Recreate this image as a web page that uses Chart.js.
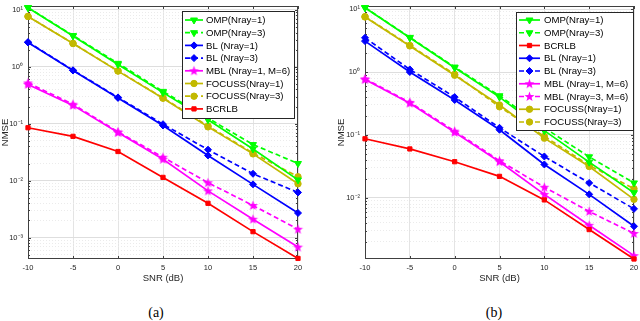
<!DOCTYPE html>
<html>
<head>
<meta charset="utf-8">
<script src="https://cdn.jsdelivr.net/npm/chart.js@4.4.1/dist/chart.umd.min.js"></script>
<style>
  body { margin: 0; background: #fff; width: 640px; height: 321px; overflow: hidden; position: relative; }
  .panel { position: absolute; top: 0; height: 300px; }
  #pa { left: 0; width: 310px; }
  #pb { left: 336px; width: 304px; }
  .cap { position: absolute; top: 305px; width: 40px; text-align: center; font: 14px "Liberation Serif", "Times New Roman", serif; line-height: 16px; color: #000; }
</style>
</head>
<body>
<div class="panel" id="pa"><canvas id="chartA"></canvas></div>
<div class="panel" id="pb"><canvas id="chartB"></canvas></div>
<div class="cap" style="left:136px">(a)</div>
<div class="cap" style="left:474px">(b)</div>
<script>
// SNR axis (dB)
const snr = [-10, -5, 0, 5, 10, 15, 20];
const xTicks = [-10, -5, 0, 5, 10, 15, 20];
const yDecades = [1e-3, 1e-2, 1e-1, 1, 10];
const yDecadeLabels = ['10⁻³', '10⁻²', '10⁻¹', '10⁰', '10¹'];

// panel (a)
const aOmp1 = [10.9, 3.47, 1.10, 0.352, 0.117, 0.036, 0.0103];
const aOmp3 = [11.0, 3.55, 1.15, 0.37, 0.125, 0.043, 0.020];
const aBl1 = [2.67, 0.86, 0.284, 0.093, 0.0277, 0.0086, 0.0027];
const aBl3 = [2.72, 0.87, 0.29, 0.098, 0.035, 0.0132, 0.0062];
const aMbl1 = [0.49, 0.21, 0.070, 0.0237, 0.0066, 0.0021, 0.00068];
const aMbl3 = [0.52, 0.22, 0.072, 0.0258, 0.0092, 0.00366, 0.0014];
const aFoc1 = [7.66, 2.56, 0.84, 0.28, 0.088, 0.0295, 0.0088];
const aFoc3 = [7.7, 2.58, 0.85, 0.285, 0.091, 0.0305, 0.0117];
const aBcrlb = [0.085, 0.060, 0.0325, 0.0114, 0.0040, 0.00127, 0.00043];

// panel (b)
const bOmp1 = [10.5, 3.5, 1.17, 0.40, 0.117, 0.037, 0.0121];
const bOmp3 = [10.6, 3.55, 1.2, 0.42, 0.13, 0.045, 0.0173];
const bBcrlb = [0.087, 0.060, 0.0376, 0.022, 0.0093, 0.00314, 0.00107];
const bBl1 = [3.1, 1.0, 0.36, 0.121, 0.034, 0.0114, 0.00354];
const bBl3 = [3.5, 1.1, 0.40, 0.13, 0.0455, 0.0173, 0.0067];
const bMbl1 = [0.76, 0.32, 0.11, 0.0376, 0.0114, 0.00367, 0.00121];
const bMbl3 = [0.78, 0.33, 0.115, 0.039, 0.0148, 0.0061, 0.00272];
const bFoc1 = [7.5, 2.6, 0.89, 0.30, 0.089, 0.0315, 0.0095];
const bFoc3 = [7.6, 2.65, 0.92, 0.28, 0.095, 0.033, 0.014];

const GREEN = '#00ff00', BLUE = '#0000ff', MAGENTA = '#ff00ff', OLIVE = '#c2b900', RED = '#ff0000';
const FONT = '"Liberation Sans", Arial, sans-serif';
Chart.defaults.font.family = FONT;

// filled pentagram marker
function pentagram(color) {
  const c = document.createElement('canvas');
  c.width = 11; c.height = 11;
  const g = c.getContext('2d');
  g.fillStyle = color;
  g.beginPath();
  for (let i = 0; i < 10; i++) {
    const r = i % 2 === 0 ? 5.2 : 2.1;
    const a = -Math.PI / 2 + i * Math.PI / 5;
    g.lineTo(5.5 + r * Math.cos(a), 5.8 + r * Math.sin(a));
  }
  g.closePath();
  g.fill();
  return c;
}
const starM = pentagram(MAGENTA);

function series(label, data, color, dashed, style, radius, extra) {
  return Object.assign({
    label: label,
    data: data.map((v, i) => ({ x: snr[i], y: v })),
    borderColor: color,
    backgroundColor: color,
    pointBackgroundColor: color,
    pointBorderColor: color,
    borderWidth: 1.7,
    borderDash: dashed ? [5, 3] : [],
    pointStyle: style,
    pointRadius: radius,
    pointBorderWidth: 1,
    pointRotation: 0,
    tension: 0,
    clip: false
  }, extra || {});
}
const down = { pointRotation: 180 };

function isDecade(v) {
  const l = Math.log10(v);
  return Math.abs(l - Math.round(l)) < 1e-9;
}

const boxPlugin = {
  id: 'axesBox',
  beforeDatasetsDraw(chart) {
    const { ctx, chartArea: a } = chart;
    const x = chart.scales.x, y = chart.scales.y;
    ctx.save();
    ctx.strokeStyle = '#404040';
    ctx.lineWidth = 1;
    ctx.beginPath();
    x.ticks.forEach(t => {
      const px = Math.round(x.getPixelForValue(t.value)) + 0.5;
      ctx.moveTo(px, a.bottom); ctx.lineTo(px, a.bottom - 3);
      ctx.moveTo(px, a.top); ctx.lineTo(px, a.top + 3);
    });
    y.ticks.forEach(t => {
      const py = Math.round(y.getPixelForValue(t.value)) + 0.5;
      const len = isDecade(t.value) ? 3 : 2;
      ctx.moveTo(a.left, py); ctx.lineTo(a.left + len, py);
      ctx.moveTo(a.right, py); ctx.lineTo(a.right - len, py);
    });
    ctx.stroke();
    ctx.strokeRect(Math.round(a.left) + 0.5, Math.round(a.top) + 0.5,
      Math.round(a.right - a.left) - 1, Math.round(a.bottom - a.top) - 1);
    ctx.restore();
  }
};

const legendPlugin = {
  id: 'boxLegend',
  afterDraw(chart, args, o) {
    const { ctx, chartArea: a } = chart;
    const items = chart.data.datasets.filter(d => !d.hideInLegend);
    ctx.save();
    ctx.font = o.fontSize + 'px ' + FONT;
    const tw = Math.max(...items.map(d => ctx.measureText(d.label).width));
    const w = Math.round(o.textX + tw + o.padRight);
    const h = Math.round(o.padTop * 2 + o.rowH * (items.length - 1));
    const x0 = Math.round(a.right - o.right - w);
    const y0 = Math.round(a.top + o.top);
    ctx.fillStyle = '#fff';
    ctx.fillRect(x0, y0, w, h);
    ctx.strokeStyle = '#262626';
    ctx.lineWidth = 1;
    ctx.strokeRect(x0 + 0.5, y0 + 0.5, w, h);
    items.forEach((d, i) => {
      const cy = y0 + o.padTop + i * o.rowH;
      ctx.strokeStyle = d.borderColor;
      ctx.lineWidth = d.borderWidth;
      ctx.setLineDash(d.borderDash);
      ctx.beginPath();
      ctx.moveTo(x0 + o.lineFrom, cy);
      ctx.lineTo(x0 + o.lineTo, cy);
      ctx.stroke();
      ctx.setLineDash([]);
      ctx.fillStyle = d.pointBackgroundColor;
      ctx.strokeStyle = d.pointBorderColor;
      ctx.lineWidth = 1;
      Chart.helpers.drawPoint(ctx, {
        pointStyle: d.pointStyle, rotation: d.pointRotation || 0,
        radius: d.pointRadius, borderWidth: 1
      }, x0 + (o.lineFrom + o.lineTo) / 2, cy);
      ctx.fillStyle = '#000';
      ctx.textBaseline = 'middle';
      ctx.textAlign = 'left';
      ctx.fillText(d.label, x0 + o.textX, cy + 0.5);
    });
    ctx.restore();
  }
};

function makeChart(id, datasets, yMin, yMax, yWidth, padRight, legendOpts) {
  return new Chart(document.getElementById(id), {
    type: 'line',
    data: { datasets: datasets },
    options: {
      responsive: true,
      maintainAspectRatio: false,
      animation: false,
      events: [],
      layout: { padding: { top: 1, right: padRight, left: 0, bottom: 0 } },
      scales: {
        x: {
          type: 'linear',
          min: -10,
          max: 20,
          afterBuildTicks: s => { s.ticks = xTicks.map(v => ({ value: v })); },
          afterFit: s => { s.height = 41; s.paddingLeft = 0; s.paddingRight = 0; },
          ticks: { font: { size: 7.5 }, color: '#262626', padding: 4, maxRotation: 0, autoSkip: false },
          grid: { color: '#e4e4e4', lineWidth: 1, drawTicks: false },
          border: { display: false },
          title: { display: true, text: 'SNR (dB)', color: '#262626', font: { size: 9.5 }, padding: { top: 0, bottom: 16 } }
        },
        y: {
          type: 'logarithmic',
          min: yMin,
          max: yMax,
          afterBuildTicks: s => {
            const ticks = [];
            for (let e = Math.floor(Math.log10(yMin)); e <= Math.ceil(Math.log10(yMax)); e++) {
              for (let k = 1; k <= 9; k++) {
                const v = k * Math.pow(10, e);
                if (v >= yMin && v <= yMax) ticks.push({ value: v });
              }
            }
            s.ticks = ticks;
          },
          afterFit: s => { s.width = yWidth; s.paddingTop = 0; s.paddingBottom = 0; },
          ticks: {
            font: { size: 7.5 }, color: '#262626', padding: 5, autoSkip: false,
            callback: v => {
              const i = yDecades.findIndex(d => Math.abs(d - v) / d < 1e-9);
              return i >= 0 ? yDecadeLabels[i] : '';
            }
          },
          grid: {
            drawTicks: false,
            color: c => (c.tick && isDecade(c.tick.value)) ? '#dedede' : '#ebebeb'
          },
          border: { display: false, dash: c => (c.tick && !isDecade(c.tick.value)) ? [1, 2] : [] },
          title: { display: true, text: 'NMSE', color: '#262626', font: { size: 9.5 }, padding: { top: 0, bottom: 0 } }
        }
      },
      plugins: {
        legend: { display: false },
        tooltip: { enabled: false },
        boxLegend: legendOpts
      }
    },
    plugins: [boxPlugin, legendPlugin]
  });
}

makeChart('chartA', [
  series('OMP(Nray=1)', aOmp1, GREEN, false, 'triangle', 4, down),
  series('OMP(Nray=3)', aOmp3, GREEN, true, 'triangle', 4, down),
  series('BL (Nray=1)', aBl1, BLUE, false, 'rectRot', 3.5),
  series('BL (Nray=3)', aBl3, BLUE, true, 'rectRot', 3.5),
  series('MBL (Nray=1, M=6)', aMbl1, MAGENTA, false, starM, 5),
  series('MBL (Nray=3, M=6)', aMbl3, MAGENTA, true, starM, 5, { hideInLegend: true }),
  series('FOCUSS(Nray=1)', aFoc1, OLIVE, false, 'circle', 3.2),
  series('FOCUSS(Nray=3)', aFoc3, OLIVE, true, 'circle', 3.2),
  series('BCRLB', aBcrlb, RED, false, 'rect', 3)
], 4.2e-4, 11.7, 28, 12, {
  fontSize: 9.6, right: 4, top: 5, padTop: 9, rowH: 12.7,
  lineFrom: 3, lineTo: 21, textX: 24, padRight: 4
});

makeChart('chartB', [
  series('OMP(Nray=1)', bOmp1, GREEN, false, 'triangle', 4, down),
  series('OMP(Nray=3)', bOmp3, GREEN, true, 'triangle', 4, down),
  series('BCRLB', bBcrlb, RED, false, 'rect', 3),
  series('BL (Nray=1)', bBl1, BLUE, false, 'rectRot', 3.5),
  series('BL (Nray=3)', bBl3, BLUE, true, 'rectRot', 3.5),
  series('MBL (Nray=1, M=6)', bMbl1, MAGENTA, false, starM, 5),
  series('MBL (Nray=3, M=6)', bMbl3, MAGENTA, true, starM, 5),
  series('FOCUSS(Nray=1)', bFoc1, OLIVE, false, 'circle', 3.2),
  series('FOCUSS(Nray=3)', bFoc3, OLIVE, true, 'circle', 3.2)
], 1.07e-3, 11.2, 29, 6, {
  fontSize: 9.6, right: 1, top: 6, padTop: 8, rowH: 12.75,
  lineFrom: 3, lineTo: 24, textX: 28, padRight: 5
});
</script>
</body>
</html>
